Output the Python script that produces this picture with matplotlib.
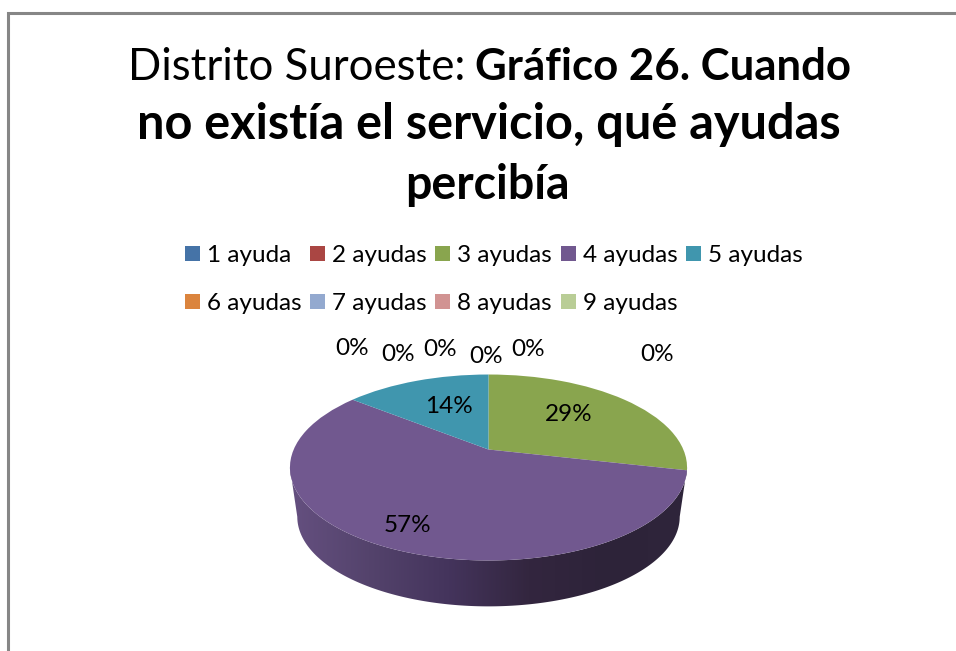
#!/usr/bin/env python3
"""Distrito Suroeste, Grafico 26: tilted pie with a side wall, drawn in pixel coordinates."""
import matplotlib
matplotlib.use("Agg")
import matplotlib.pyplot as plt
import numpy as np
from matplotlib.colors import LinearSegmentedColormap
from matplotlib.patches import Polygon, Rectangle
from matplotlib.transforms import Transform

plt.rcParams["font.family"] = ["Lato", "DejaVu Sans"]

categories = ["1 ayuda", "2 ayudas", "3 ayudas", "4 ayudas", "5 ayudas",
              "6 ayudas", "7 ayudas", "8 ayudas", "9 ayudas"]
values = [0, 0, 2, 4, 1, 0, 0, 0, 0]
colors = ["#4573a7", "#aa4643", "#89a54e", "#71588f", "#4096ae",
          "#db843d", "#93a9cf", "#d19392", "#b9cd96"]
pct_labels = ["14%", "29%", "57%", "0%", "0%", "0%", "0%", "0%", "0%"]
wall_colors = ["#655080", "#54436c", "#44345c", "#33263f", "#2d2339", "#2f253b"]

CX, CY = 488.5, 449.5   # pie centre in pixels
SX, A, C = 194.8, 89.5, 0.1935   # perspective of the tilt
DROP, SHRINK = 50, 0.963   # lower rim of the wall


class Tilt(Transform):
    """Unit circle to tilted pie, far side squeezed."""
    input_dims = output_dims = 2

    def transform_non_affine(self, values):
        u, v = values[:, 0], values[:, 1]
        d = 1 + C * v
        return np.column_stack([CX + SX * u / d, CY - A * v / d])


def rim(theta, scale=1.0, drop=0.0):
    pts = Tilt().transform(np.column_stack([np.sin(theta), np.cos(theta)]))
    return np.column_stack([CX + scale * (pts[:, 0] - CX), CY + drop + scale * (pts[:, 1] - CY)])


fig = plt.figure(figsize=(9.56, 6.51), dpi=100, facecolor="white")
ax = fig.add_axes([0, 0, 1, 1])

# wall first, the top face goes over it
edge = np.arcsin(C)
th = np.linspace(np.pi / 2 + edge, 3 * np.pi / 2 - edge, 200)
wall = np.vstack([rim(th), rim(th, SHRINK, DROP)[::-1]])
poly = Polygon(wall, closed=True, facecolor="none", edgecolor="none", transform=ax.transData)
ax.add_patch(poly)
cmap = LinearSegmentedColormap.from_list("wall", wall_colors[::-1])
img = ax.imshow(np.linspace(1, 0, 256)[None, :], cmap=cmap, aspect="auto",
                extent=(289, 689, 610, 460), interpolation="bilinear", zorder=1)
img.set_clip_path(poly)

wedges, _ = ax.pie(values, colors=colors, startangle=90, counterclock=False, radius=1,
                   wedgeprops={"linewidth": 0, "zorder": 2})
for w in wedges:
    w.set_transform(Tilt() + ax.transData)
    w.set_zorder(2)

ax.set_aspect("auto")
ax.set_xlim(0, 956)
ax.set_ylim(651, 0)
ax.axis("off")

# slice labels
label_xy = [(449, 406.5), (569, 414.5), (407, 525), (352, 348.5), (398, 354.5),
            (440, 349.5), (486, 356.5), (528, 349.5), (657, 354.5)]
for txt, (x, y) in zip(pct_labels, label_xy):
    ax.text(x, y, txt, fontsize=17.5, color="black", ha="center", va="center", zorder=3)

# legend, two rows on a fixed grid
col_x = [185, 310, 435, 561, 686]
row_y = [253.5, 301.5]
for i, (name, col) in enumerate(zip(categories, colors)):
    x = col_x[i % 5]
    y = row_y[i // 5]
    ax.add_patch(Rectangle((x, y - 7.5), 15, 15, facecolor=col, edgecolor="none"))
    ax.text(x + 22, y + 1.5, name, fontsize=17.5, color="black", ha="left", va="center")

# title, sizes per line because Lato runs a bit different from the original face
ax.text(128, 80, "Distrito Suroeste: ", fontsize=31.5, ha="left", va="baseline")
ax.text(851, 80, "Gráfico 26. Cuando", fontsize=31.5, fontweight="bold", ha="right", va="baseline")
ax.text(488.5, 139, "no existía el servicio, qué ayudas", fontsize=35, fontweight="bold", ha="center", va="baseline")
ax.text(487.5, 199, "percibía", fontsize=33.5, fontweight="bold", ha="center", va="baseline")

# frame of the pasted chart, only top and left are in the crop
ax.plot([8, 8, 956], [651, 13, 13], color="#868686", lw=2.2, solid_joinstyle="miter")

fig.savefig("out.png", dpi=100, facecolor="white")
